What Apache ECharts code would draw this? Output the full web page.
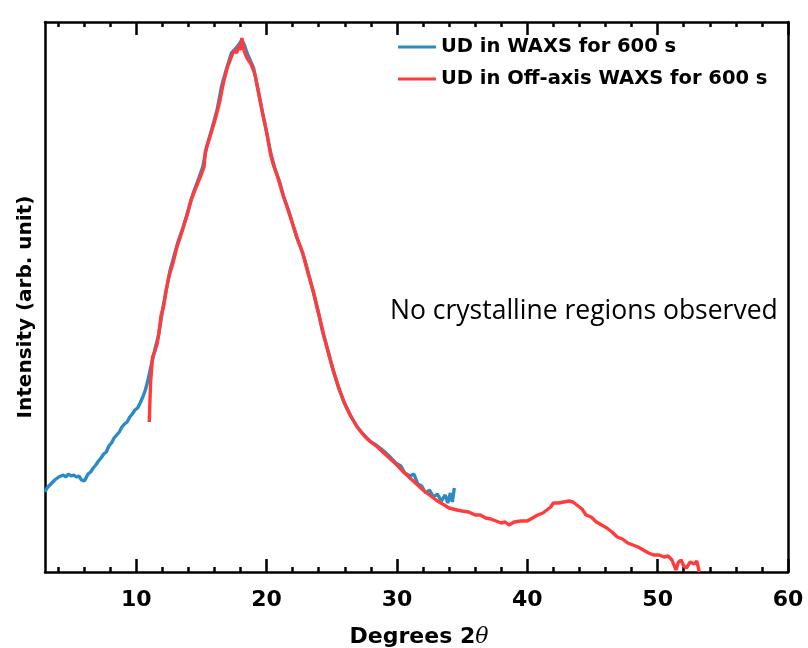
<!DOCTYPE html>
<html>
<head>
<meta charset="utf-8">
<script src="https://cdn.jsdelivr.net/npm/echarts@6/dist/echarts.min.js"></script>
<style>
  html, body { margin: 0; padding: 0; background: #fff; }
  #chart { width: 808px; height: 648px; }
</style>
</head>
<body>
<div id="chart"></div>
<script>
// Series names
var seriesNames = ['UD in WAXS for 600 s', 'UD in Off-axis WAXS for 600 s'];

// [2θ (degrees), intensity (arb. unit)]
var waxsPoints = [
  [3.0, 80], [3.15, 84], [3.3, 82], [3.45, 88], [3.6, 86], [3.75, 92], [3.9, 90], [4.05, 95],
  [4.2, 93], [4.4, 97], [4.6, 95], [4.8, 98], [5.0, 96], [5.2, 97], [5.4, 95], [5.6, 96],
  [5.8, 92], [6.0, 91], [6.15, 94], [6.3, 98], [6.5, 100], [6.7, 104], [6.9, 107], [7.1, 111],
  [7.3, 114], [7.5, 118], [7.7, 120], [7.9, 126], [8.1, 129], [8.3, 134], [8.5, 137], [8.7, 140],
  [8.9, 145], [9.1, 148], [9.3, 150], [9.5, 155], [9.7, 158], [9.9, 162], [10.1, 164], [10.3, 169],
  [10.5, 175], [10.7, 182], [10.9, 192], [11.1, 204], [11.3, 215], [11.5, 226], [11.7, 236],
  [11.9, 252], [12.1, 268], [12.3, 282], [12.6, 302], [12.9, 316], [13.2, 330], [13.6, 345],
  [14.0, 362], [14.4, 380], [14.8, 394], [15.1, 405], [15.4, 425], [15.8, 443], [16.2, 462],
  [16.55, 486], [16.9, 502], [17.3, 519], [17.6, 523], [17.9, 528], [18.1, 532], [18.3, 527],
  [18.5, 519], [18.8, 510], [19.0, 504], [19.35, 482], [19.65, 462], [20.0, 440], [20.3, 420],
  [20.6, 405], [21.0, 390], [21.3, 376], [21.7, 361], [22.0, 348], [22.3, 335], [22.6, 325],
  [22.9, 313], [23.3, 294], [23.6, 279], [24.0, 258], [24.3, 240], [24.7, 222], [25.1, 202],
  [25.5, 185], [25.9, 171], [26.4, 157], [26.9, 146], [27.4, 138], [27.9, 131], [28.4, 127],
  [28.9, 122], [29.4, 116], [29.9, 109], [30.3, 106], [30.6, 99], [31.0, 96], [31.3, 98],
  [31.6, 88], [31.9, 86], [32.2, 79], [32.5, 82], [32.8, 75], [33.1, 78], [33.4, 71], [33.7, 77],
  [33.9, 69], [34.1, 79], [34.25, 70], [34.4, 84]
];

var offAxisPoints = [
  [11.0, 150], [11.1, 190], [11.25, 215], [11.4, 220], [11.6, 228], [11.75, 240], [11.9, 256],
  [12.1, 266], [12.3, 282], [12.5, 295], [12.8, 308], [13.1, 324], [13.5, 340], [13.9, 357],
  [14.2, 372], [14.6, 385], [15.0, 398], [15.2, 405], [15.3, 420], [15.6, 433], [16.0, 450],
  [16.4, 470], [16.7, 490], [17.0, 505], [17.3, 515], [17.5, 522], [17.7, 519], [17.9, 527],
  [18.0, 522], [18.1, 534], [18.3, 520], [18.5, 514], [18.8, 508], [19.1, 498], [19.4, 478],
  [19.7, 458], [20.0, 440], [20.3, 418], [20.5, 408], [20.9, 393], [21.3, 375], [21.6, 364],
  [22.0, 348], [22.4, 332], [22.8, 318], [23.2, 298], [23.6, 280], [24.0, 258], [24.4, 236],
  [24.8, 216], [25.2, 198], [25.6, 182], [26.0, 168], [26.5, 155], [27.0, 144], [27.5, 136],
  [28.0, 130], [28.5, 125], [29.0, 119], [29.5, 113], [30.0, 107], [30.5, 100], [31.0, 94],
  [31.5, 88], [32.0, 82], [32.5, 77], [33.0, 72], [33.5, 68], [34.0, 64], [34.6, 62], [35.0, 61],
  [35.5, 60], [36.0, 57], [36.4, 57], [36.8, 54], [37.2, 53], [37.6, 51], [38.0, 49], [38.3, 50],
  [38.6, 47], [39.0, 50], [39.5, 51], [40.0, 51], [40.4, 54], [40.8, 57], [41.2, 59], [41.5, 62],
  [41.8, 65], [42.0, 69], [42.4, 69], [42.8, 70], [43.2, 71], [43.5, 70], [43.9, 66], [44.2, 63],
  [44.5, 57], [44.9, 55], [45.3, 50], [45.7, 47], [46.1, 44], [46.5, 40], [46.9, 35], [47.3, 33],
  [47.7, 29], [48.1, 27], [48.5, 25], [48.9, 22], [49.3, 19], [49.7, 17], [50.1, 17], [50.5, 15],
  [50.8, 16], [51.1, 12], [51.4, 2], [51.6, 10], [51.8, 12], [52.0, 6], [52.2, 4], [52.5, 10],
  [52.8, 8], [53.0, 11], [53.2, 0]
];

// Axis ticks
var xMajorTicks = [10, 20, 30, 40, 50, 60];
var xMinorTicks = [4, 6, 8, 12, 14, 16, 18, 22, 24, 26, 28, 32, 34, 36, 38, 42, 44, 46, 48, 52, 54, 56, 58];
var xRange = [3, 60];
var yRange = [0, 550];

var annotationText = 'No crystalline regions observed';
var xTitle = 'Degrees 2';
var yTitle = 'Intensity (arb. unit)';

var BOLD = 'DejaVu Sans';
var lineStyleAxis = { color: '#000', width: 2.5 };

function makeXAxis(pos, ticks, len, showLine, showLabels) {
  return {
    type: 'value', position: pos, min: xRange[0], max: xRange[1],
    axisLine: { show: showLine, onZero: false, lineStyle: lineStyleAxis },
    axisTick: { show: true, inside: true, length: len, customValues: ticks,
                lineStyle: { color: '#000', width: 2.5 } },
    axisLabel: { show: showLabels, customValues: ticks, margin: 17,
                 fontFamily: BOLD, fontWeight: 'bold', fontSize: 22, color: '#000' },
    splitLine: { show: false }
  };
}

var chart = echarts.init(document.getElementById('chart'), null, { renderer: 'canvas' });
chart.setOption({
  animation: false,
  backgroundColor: '#fff',
  grid: { left: 45, right: 20, top: 22, bottom: 76, containLabel: false },
  xAxis: [
    makeXAxis('bottom', xMajorTicks, 13, true, true),
    makeXAxis('bottom', xMinorTicks, 5, false, false),
    makeXAxis('top', xMajorTicks, 13, true, false),
    makeXAxis('top', xMinorTicks, 5, false, false)
  ],
  yAxis: [
    { type: 'value', position: 'left', min: yRange[0], max: yRange[1],
      axisLine: { show: true, onZero: false, lineStyle: lineStyleAxis },
      axisTick: { show: false }, axisLabel: { show: false }, splitLine: { show: false } },
    { type: 'value', position: 'right', min: yRange[0], max: yRange[1],
      axisLine: { show: true, onZero: false, lineStyle: lineStyleAxis },
      axisTick: { show: false }, axisLabel: { show: false }, splitLine: { show: false } }
  ],
  legend: {
    orient: 'vertical', left: 393, top: 32, itemWidth: 38, itemHeight: 3, itemGap: 12,
    icon: 'rect',
    textStyle: { fontFamily: BOLD, fontWeight: 'bold', fontSize: 19.5, color: '#000' },
    data: seriesNames
  },
  series: [
    { name: seriesNames[0], type: 'line', data: waxsPoints, showSymbol: false, symbol: 'none',
      lineStyle: { color: '#2a8cc4', width: 3.4 }, itemStyle: { color: '#2a8cc4' }, z: 2 },
    { name: seriesNames[1], type: 'line', data: offAxisPoints, showSymbol: false, symbol: 'none',
      lineStyle: { color: '#ff3c3c', width: 3.4 }, itemStyle: { color: '#ff3c3c' }, z: 3 }
  ],
  graphic: [
    { type: 'text', left: 390, top: 298,
      style: { text: annotationText, font: '26.5px "Open Sans"', fill: '#000' } },
    { type: 'text', x: 26, y: 307, rotation: Math.PI / 2,
      style: { text: yTitle, font: 'bold 20px "DejaVu Sans"', fill: '#000',
               align: 'center', verticalAlign: 'middle' } },
    { type: 'text', x: 419, y: 637,
      style: { text: '{a|' + xTitle + '}{t|θ}', align: 'center', verticalAlign: 'middle',
               rich: {
                 a: { fontFamily: BOLD, fontWeight: 'bold', fontSize: 22, fill: '#000', color: '#000' },
                 t: { fontFamily: 'DejaVu Serif', fontStyle: 'italic', fontSize: 22, fill: '#000', color: '#000' }
               } } }
  ]
});
</script>
</body>
</html>
